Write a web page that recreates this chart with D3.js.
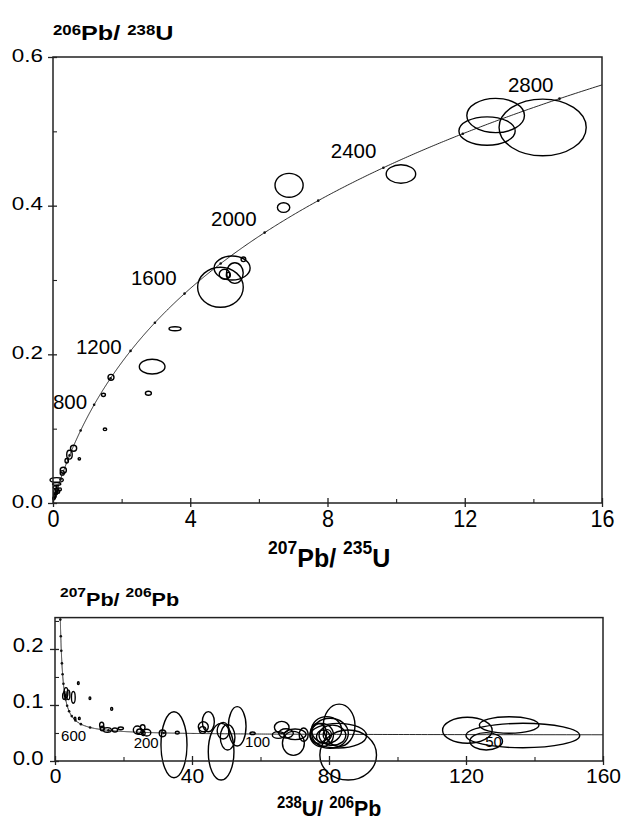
<!DOCTYPE html>
<html>
<head>
<meta charset="utf-8">
<script src="https://cdn.jsdelivr.net/npm/d3@7"></script>
<style>
  body { margin: 0; background: #fff; }
  svg text { font-family: "Liberation Sans", Arial, Helvetica, sans-serif; fill: #000; white-space: pre; }
</style>
</head>
<body>
<svg id="chart" width="629" height="823"></svg>
<script>
// decay constants (per year) and present day 238U/235U
var L238 = 1.55125e-10, L235 = 9.8485e-10, U_RATIO = 137.88;

// Wetherill concordia (207Pb/235U vs 206Pb/238U)
var conc_x_ticks = [0, 4, 8, 12, 16];
var conc_x_minor = [2, 6, 10, 14];
var conc_y_ticks = [0, 0.2, 0.4, 0.6];
var conc_y_minor = [0.1, 0.3, 0.5];
var conc_marker_ages = [200, 400, 600, 800, 1000, 1200, 1400, 1600, 1800, 2000, 2200, 2400, 2600, 2800];
var conc_label_ages = [800, 1200, 1600, 2000, 2400, 2800];
// [207Pb/235U, 206Pb/238U, half width, half height]
var conc_ellipses = [
  [12.90, 0.5213, 0.84, 0.0231],
  [12.65, 0.5004, 0.82, 0.0191],
  [14.27, 0.5052, 1.27, 0.0381],
  [10.14, 0.4426, 0.43, 0.0124],
  [6.88, 0.4274, 0.41, 0.0161],
  [6.72, 0.3975, 0.18, 0.0065],
  [4.88, 0.2902, 0.665, 0.0269],
  [5.22, 0.3161, 0.525, 0.0161],
  [5.30, 0.3094, 0.243, 0.0139],
  [5.00, 0.3077, 0.155, 0.0067],
  [5.11, 0.3067, 0.058, 0.0036],
  [5.55, 0.3278, 0.068, 0.0031],
  [3.556, 0.2345, 0.175, 0.0027],
  [2.89, 0.1834, 0.374, 0.0099],
  [1.69, 0.1691, 0.087, 0.0040],
  [1.47, 0.1455, 0.058, 0.0022],
  [2.78, 0.1476, 0.087, 0.0027],
  [1.515, 0.0991, 0.05, 0.0018],
  [0.767, 0.0594, 0.035, 0.0016],
  [0.60, 0.0736, 0.09, 0.0040],
  [0.48, 0.0650, 0.08, 0.0060],
  [0.40, 0.0569, 0.05, 0.0030],
  [0.30, 0.0440, 0.09, 0.0040],
  [0.27, 0.0405, 0.06, 0.0030],
  [0.107, 0.0310, 0.194, 0.0031],
  [0.107, 0.0256, 0.12, 0.0018],
  [0.058, 0.0211, 0.05, 0.0020],
  [0.107, 0.0175, 0.04, 0.0020],
  [0.155, 0.0152, 0.04, 0.0020],
  [0.204, 0.0184, 0.04, 0.0020],
  [0.12, 0.0180, 0.03, 0.0060],
  [0.05, 0.0120, 0.03, 0.0070],
  [0.087, 0.0130, 0.04, 0.0020],
  [0.058, 0.0094, 0.035, 0.0020],
  [0.02, 0.0063, 0.03, 0.0020]
];

// Tera-Wasserburg (238U/206Pb vs 207Pb/206Pb)
var tw_x_ticks = [0, 40, 80, 120, 160];
var tw_x_minor = [20, 60, 100, 140];
var tw_y_ticks = [0, 0.1, 0.2];
var tw_y_minor = [0.05, 0.15, 0.25];
var tw_marker_ages = [200, 400, 600, 800, 1000, 1200, 1400, 1600, 1800, 2000, 2200, 2400, 2600, 2800, 3000, 3200];
var tw_label_ages = [600, 200, 100, 50];
// [238U/206Pb, 207Pb/206Pb, half width, half height]
var tw_ellipses = [
  [3.21, 0.122, 0.55, 0.0090],
  [3.89, 0.118, 0.45, 0.0085],
  [5.35, 0.1137, 0.55, 0.0105],
  [2.63, 0.116, 0.40, 0.0060],
  [6.81, 0.139, 0.25, 0.0025],
  [10.2, 0.112, 0.25, 0.0025],
  [16.55, 0.093, 0.30, 0.0025],
  [5.84, 0.076, 0.25, 0.0022],
  [7.1, 0.076, 0.25, 0.0022],
  [13.63, 0.0643, 0.60, 0.0050],
  [13.8, 0.058, 0.60, 0.0040],
  [15.28, 0.0554, 1.17, 0.0042],
  [17.5, 0.0554, 0.78, 0.0036],
  [19.2, 0.0583, 0.78, 0.0024],
  [24.04, 0.0554, 1.17, 0.0071],
  [25.6, 0.0600, 0.68, 0.0048],
  [26.8, 0.0506, 1.17, 0.0060],
  [24.8, 0.0524, 0.97, 0.0048],
  [25.8, 0.0494, 0.50, 0.0040],
  [31.4, 0.0494, 0.97, 0.0060],
  [34.74, 0.0291, 3.80, 0.0589],
  [35.7, 0.0506, 0.58, 0.0024],
  [43.3, 0.0613, 1.46, 0.0089],
  [44.77, 0.0702, 1.75, 0.0179],
  [43.1, 0.0554, 0.97, 0.0060],
  [48.5, 0.0166, 3.75, 0.0506],
  [49.1, 0.0541, 1.75, 0.0149],
  [50.4, 0.0423, 2.14, 0.0226],
  [53.2, 0.0619, 2.58, 0.0351],
  [57.7, 0.0494, 0.78, 0.0024],
  [66.2, 0.0601, 2.14, 0.0107],
  [65.2, 0.0464, 1.75, 0.0060],
  [67.45, 0.0494, 2.14, 0.0083],
  [69.6, 0.0315, 3.20, 0.0214],
  [70.1, 0.0476, 3.20, 0.0095],
  [72.6, 0.0470, 1.30, 0.0120],
  [82.97, 0.0637, 4.62, 0.0378],
  [85.6, 0.0107, 8.27, 0.0446],
  [82.7, 0.0452, 8.27, 0.0220],
  [79.3, 0.0554, 4.38, 0.0238],
  [77.9, 0.0464, 3.40, 0.0208],
  [80.3, 0.0494, 5.35, 0.0268],
  [78.3, 0.0434, 1.95, 0.0119],
  [76.9, 0.0494, 2.40, 0.0179],
  [79.5, 0.0470, 1.20, 0.0090],
  [81.0, 0.0460, 3.90, 0.0180],
  [120.4, 0.0548, 7.24, 0.0232],
  [132.6, 0.0643, 8.70, 0.0148],
  [136.6, 0.0455, 16.6, 0.0218],
  [125.9, 0.0352, 4.76, 0.0155]
];

function wetherill(t) {
  var a = t * 1e6;
  return [Math.exp(L235 * a) - 1, Math.exp(L238 * a) - 1];
}
function tera(t) {
  var a = t * 1e6;
  var r68 = Math.exp(L238 * a) - 1, r75 = Math.exp(L235 * a) - 1;
  return [1 / r68, r75 / r68 / U_RATIO];
}

var svg = d3.select('#chart');

function ratio_title(x0, y0, parts, size, sup_size, sup_dy, sx) {
  var t = svg.append('text')
    .attr('transform', 'translate(' + x0 + ',' + y0 + ') scale(' + sx + ',1)')
    .style('font-weight', 700);
  parts.forEach(function(p, i) {
    var sup = (i % 2 === 0);
    t.append('tspan')
      .attr('dy', i === 0 ? sup_dy : (sup ? sup_dy : -sup_dy))
      .style('font-size', (sup ? sup_size : size) + 'px')
      .text(p);
  });
}

function draw_plot(cfg) {
  var x = cfg.x, y = cfg.y;
  var x0 = x.range()[0], x1 = x.range()[1];
  var yb = y.range()[0], yt = y.range()[1];
  var g = svg.append('g').attr('class', cfg.name);

  g.append('clipPath').attr('id', cfg.name + '-clip')
    .append('rect').attr('x', x0).attr('y', yt).attr('width', x1 - x0).attr('height', yb - yt);

  // concordia
  var line = d3.line().x(function(d){ return x(d[0]); }).y(function(d){ return y(d[1]); });
  g.append('path')
    .datum(cfg.curve_ages.map(cfg.fn))
    .attr('d', line)
    .attr('clip-path', 'url(#' + cfg.name + '-clip)')
    .attr('fill', 'none')
    .attr('stroke', '#111')
    .attr('stroke-width', 0.9);

  g.append('g').selectAll('circle')
    .data(cfg.marker_ages.map(cfg.fn).filter(function(d){ return d[0] <= x.domain()[1] && d[1] <= y.domain()[1]; }))
    .join('circle')
    .attr('cx', function(d){ return x(d[0]); })
    .attr('cy', function(d){ return y(d[1]); })
    .attr('r', 1.3)
    .attr('fill', '#111');

  g.append('g').selectAll('text')
    .data(cfg.label_ages)
    .join('text')
    .attr('x', function(d){ return x(cfg.fn(d)[0]) + cfg.label_off[d][0]; })
    .attr('y', function(d){ return y(cfg.fn(d)[1]) + cfg.label_off[d][1]; })
    .attr('text-anchor', 'end')
    .style('font-size', cfg.label_size + 'px')
    .text(function(d){ return d; });

  // error ellipses
  g.append('g').selectAll('ellipse')
    .data(cfg.ellipses)
    .join('ellipse')
    .attr('cx', function(d){ return x(d[0]); })
    .attr('cy', function(d){ return y(d[1]); })
    .attr('rx', function(d){ return x(d[2]) - x(0); })
    .attr('ry', function(d){ return y(0) - y(d[3]); })
    .attr('fill', 'none')
    .attr('stroke', '#000')
    .attr('stroke-width', 1.4);

  // frame
  g.append('rect')
    .attr('x', x0).attr('y', yt).attr('width', x1 - x0).attr('height', yb - yt)
    .attr('fill', 'none').attr('stroke', '#222').attr('stroke-width', 1.5);

  // x axis
  var xa = g.append('g').attr('transform', 'translate(0,' + yb + ')')
    .call(d3.axisBottom(x).tickValues(cfg.x_ticks).tickSizeOuter(0).tickFormat(d3.format('d')));
  xa.select('.domain').remove();
  xa.selectAll('.tick line').attr('y1', -5).attr('y2', 4).attr('stroke', '#222').attr('stroke-width', 1.3);
  xa.selectAll('.tick text')
    .attr('fill', '#000')
    .attr('font-family', null).attr('font-size', null)
    .style('font-size', cfg.xt_size + 'px')
    .attr('dy', 0)
    .attr('y', cfg.xt_base)
    .attr('transform', 'scale(' + cfg.xt_sx + ',1)');
  var xm = g.append('g').attr('transform', 'translate(0,' + yb + ')')
    .call(d3.axisTop(x).tickValues(cfg.x_minor).tickSize(4).tickFormat(''));
  xm.select('.domain').remove();
  xm.selectAll('.tick line').attr('stroke', '#222').attr('stroke-width', 1.1);

  // y axis
  var ya = g.append('g').attr('transform', 'translate(' + x0 + ',0)')
    .call(d3.axisLeft(y).tickValues(cfg.y_ticks).tickSizeOuter(0).tickFormat(d3.format('.1f')));
  ya.select('.domain').remove();
  ya.selectAll('.tick line').attr('x1', 4).attr('x2', -5).attr('stroke', '#222').attr('stroke-width', 1.3);
  ya.selectAll('.tick text')
    .attr('fill', '#000')
    .attr('font-family', null).attr('font-size', null)
    .style('font-size', cfg.yt_size + 'px')
    .attr('dy', 0)
    .attr('x', cfg.yt_end / cfg.yt_sx)
    .attr('y', cfg.yt_base)
    .attr('transform', 'scale(' + cfg.yt_sx + ',1)');
  var ym = g.append('g').attr('transform', 'translate(' + x0 + ',0)')
    .call(d3.axisRight(y).tickValues(cfg.y_minor).tickSize(4).tickFormat(''));
  ym.select('.domain').remove();
  ym.selectAll('.tick line').attr('stroke', '#222').attr('stroke-width', 1.1);
}

draw_plot({
  name: 'wetherill',
  x: d3.scaleLinear().domain([0, 16]).range([53, 602]),
  y: d3.scaleLinear().domain([0, 0.6]).range([503, 57]),
  fn: wetherill,
  curve_ages: d3.range(0, 2960, 5),
  marker_ages: conc_marker_ages,
  label_ages: conc_label_ages,
  label_off: {800: [-7, 4], 1200: [-9, 3], 1600: [-8, -9], 2000: [-8, -7], 2400: [-7, -10], 2800: [-6, -7]},
  label_size: 20.5,
  ellipses: conc_ellipses,
  x_ticks: conc_x_ticks, x_minor: conc_x_minor,
  y_ticks: conc_y_ticks, y_minor: conc_y_minor,
  xt_size: 24, xt_sx: 0.9, xt_base: 24,
  yt_size: 19, yt_sx: 1.18, yt_end: -10, yt_base: 4
});

draw_plot({
  name: 'tera',
  x: d3.scaleLinear().domain([0, 160]).range([55, 603]),
  y: d3.scaleLinear().domain([0, 0.256]).range([761, 617.6]),
  fn: tera,
  curve_ages: d3.range(35, 3500, 1),
  marker_ages: tw_marker_ages,
  label_ages: tw_label_ages,
  label_off: {600: [-4, 14], 200: [-5, 15], 100: [-4, 13], 50: [7, 12]},
  label_size: 15,
  ellipses: tw_ellipses,
  x_ticks: tw_x_ticks, x_minor: tw_x_minor,
  y_ticks: tw_y_ticks, y_minor: tw_y_minor,
  xt_size: 21, xt_sx: 1, xt_base: 22,
  yt_size: 20.5, yt_sx: 1.08, yt_end: -11.5, yt_base: 3
});

// axis titles
ratio_title(53, 40, ['206', 'Pb/ ', '238', 'U'], 21, 14, -5, 1.2);
ratio_title(268, 567, ['207', 'Pb/ ', '235', 'U'], 25, 17.5, -13, 1);
ratio_title(60, 606, ['207', 'Pb/ ', '206', 'Pb'], 18, 13, -9, 1.2);
ratio_title(277, 816, ['238', 'U/ ', '206', 'Pb'], 23, 16, -8, 0.93);
</script>
</body>
</html>
